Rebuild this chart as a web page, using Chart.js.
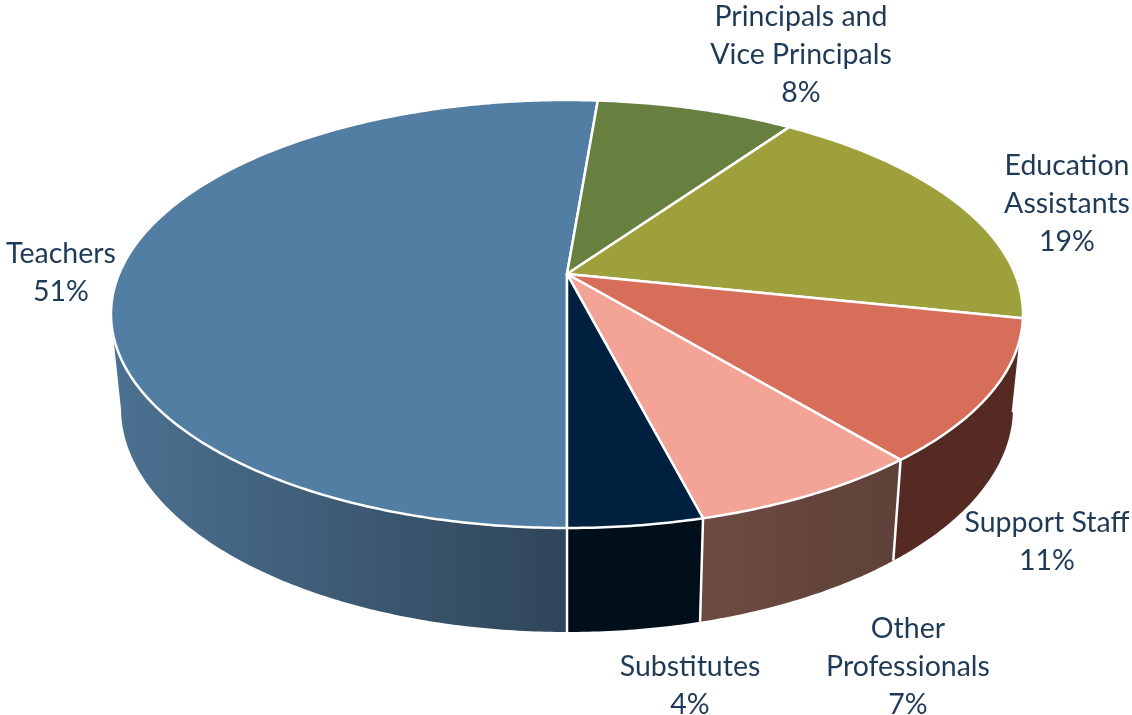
<!DOCTYPE html>
<html>
<head>
<meta charset="utf-8">
<title>Staff by role</title>
<script src="https://cdn.jsdelivr.net/npm/chart.js@4"></script>
<style>
  html, body { margin: 0; padding: 0; background: #fff; }
  canvas { display: block; }
</style>
</head>
<body>
<canvas id="pie" width="1132" height="715"></canvas>
<script>
// values (slightly more exact than the printed percentages)
const categories = ['Teachers', 'Principals and Vice Principals', 'Education Assistants', 'Support Staff', 'Other Professionals', 'Substitutes'];
const shares = [51.3, 8.4, 18.6, 10.7, 7.0, 4.0];
const labelLines = [['Teachers'], ['Principals and', 'Vice Principals'], ['Education', 'Assistants'], ['Support Staff'], ['Other', 'Professionals'], ['Substitutes']];
const topColors = ['#527ea3', '#68803f', '#9ea03b', '#d66e5a', '#f3a496', '#00203f'];
const wallLeft = ['#4c7191', '#3f5029', '#62632a', '#552a23', '#6b4a41', '#010f1b'];
const wallRight = ['#2f4559', '#3f5029', '#62632a', '#552a23', '#5f4139', '#010f1b'];

// centre x and first line centre y of each label
const labelAnchors = [[61, 254], [801, 17], [1067, 166], [1047, 523], [908, 629], [690, 667]];

// rim ellipses, top face and bottom edge of the wall
const topRim = { cx: 567, cy: 314, rx: 456, ry: 214 };
const lowRim = { cx: 567, cy: 408, rx: 446, ry: 224 };
const tilt = -0.187; // moves the pie centre up from the middle of the ellipse

// perspective: unit circle angle to position on the rim ellipse
function rimPoint(rim, angle) {
  const u = Math.cos(angle), v = Math.sin(angle);
  const w = 1 + tilt * v;
  const X = u * Math.sqrt(1 - tilt * tilt) / w;
  const Y = (v + tilt) / w;
  return { x: rim.cx + rim.rx * X, y: rim.cy + rim.ry * Y, front: Y >= 0 };
}

function sampleAngles(start, end) {
  const list = [];
  const n = Math.max(2, Math.ceil((end - start) / 0.01));
  for (let i = 0; i <= n; i++) list.push(start + (end - start) * i / n);
  return list;
}

const pie3d = {
  id: 'pie3d',
  beforeDatasetsDraw(chart) {
    const ctx = chart.ctx;
    const arcs = chart.getDatasetMeta(0).data;
    ctx.save();
    ctx.lineJoin = 'round';

    // walls
    arcs.forEach((arc, i) => {
      const angles = sampleAngles(arc.startAngle, arc.endAngle).filter(a => rimPoint(topRim, a).front);
      if (angles.length < 2) return;
      const xs = angles.map(a => rimPoint(topRim, a).x);
      const grad = ctx.createLinearGradient(Math.min(...xs), 0, Math.max(...xs), 0);
      grad.addColorStop(0, wallLeft[i]);
      grad.addColorStop(1, wallRight[i]);
      ctx.fillStyle = grad;
      ctx.beginPath();
      angles.forEach((a, k) => {
        const p = rimPoint(topRim, a);
        if (k === 0) ctx.moveTo(p.x, p.y); else ctx.lineTo(p.x, p.y);
      });
      angles.slice().reverse().forEach(a => {
        const p = rimPoint(lowRim, a);
        ctx.lineTo(p.x, p.y);
      });
      ctx.closePath();
      ctx.fill();
    });

    // white seams between the walls
    ctx.strokeStyle = '#ffffff';
    ctx.lineWidth = 2.5;
    arcs.forEach(arc => {
      if (!rimPoint(topRim, arc.startAngle).front) return;
      const a = rimPoint(topRim, arc.startAngle);
      const b = rimPoint(lowRim, arc.startAngle);
      ctx.beginPath();
      ctx.moveTo(a.x, a.y);
      ctx.lineTo(b.x, b.y);
      ctx.stroke();
    });

    // top face
    const apex = { x: topRim.cx, y: topRim.cy + topRim.ry * tilt };
    arcs.forEach(arc => {
      ctx.beginPath();
      ctx.moveTo(apex.x, apex.y);
      sampleAngles(arc.startAngle, arc.endAngle).forEach(a => {
        const p = rimPoint(topRim, a);
        ctx.lineTo(p.x, p.y);
      });
      ctx.closePath();
      ctx.fillStyle = arc.options.backgroundColor;
      ctx.fill();
      ctx.stroke();
    });

    // labels
    ctx.fillStyle = '#1f3a57';
    ctx.font = '28.5px Lato, "Open Sans", sans-serif';
    ctx.textAlign = 'center';
    ctx.textBaseline = 'middle';
    labelLines.forEach((lines, i) => {
      const rows = lines.concat(Math.round(shares[i]) + '%');
      rows.forEach((row, k) => {
        ctx.fillText(row, labelAnchors[i][0], labelAnchors[i][1] + k * 37.7);
      });
    });

    ctx.restore();
    return false; // arcs are drawn above
  }
};

new Chart(document.getElementById('pie'), {
  type: 'pie',
  data: {
    labels: categories,
    datasets: [{ data: shares, backgroundColor: topColors, borderWidth: 0 }]
  },
  options: {
    responsive: false,
    animation: false,
    rotation: 180,
    plugins: { legend: { display: false }, tooltip: { enabled: false } }
  },
  plugins: [pie3d]
});
</script>
</body>
</html>
